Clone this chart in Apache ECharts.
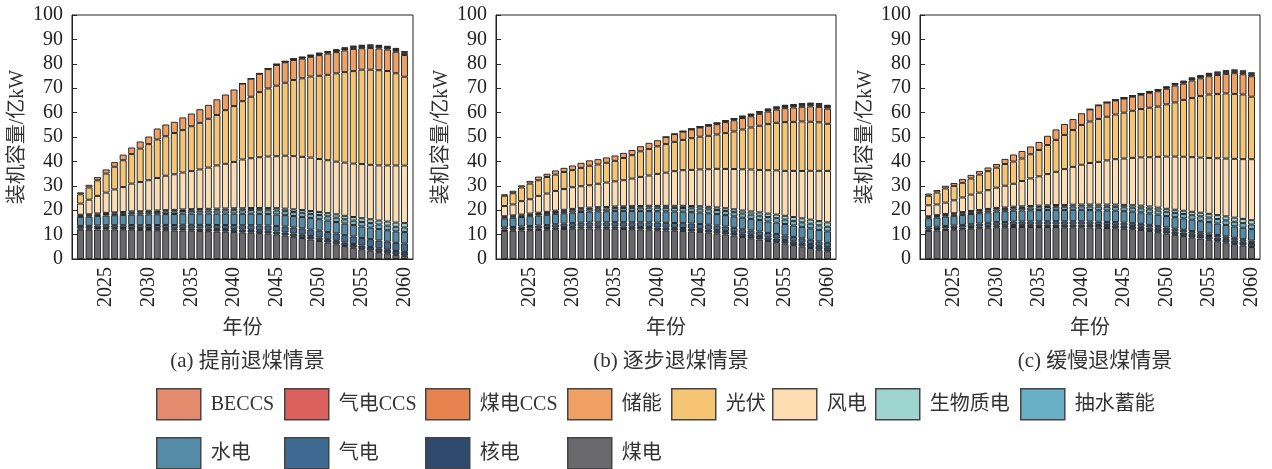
<!DOCTYPE html>
<html>
<head>
<meta charset="utf-8">
<script src="https://cdn.jsdelivr.net/npm/echarts@6/dist/echarts.min.js"></script>
<style>
  html, body { margin: 0; padding: 0; background: #fff; }
  #chart { width: 1272px; height: 469px; }
</style>
</head>
<body>
<div id="chart"></div>
<script>
// Installed capacity by technology, three coal-retirement scenarios (unit: 亿kW)
const years = [2022,2023,2024,2025,2026,2027,2028,2029,2030,2031,2032,2033,2034,2035,2036,2037,2038,2039,2040,
               2041,2042,2043,2044,2045,2046,2047,2048,2049,2050,2051,2052,2053,2054,2055,2056,2057,2058,2059,2060];
const tickYears = [2025, 2030, 2035, 2040, 2045, 2050, 2055, 2060];
const scenarioTitles = ['(a) 提前退煤情景', '(b) 逐步退煤情景', '(c) 缓慢退煤情景'];

// technologies that follow the same path in every scenario
const nuclear = [0.56,0.58,0.61,0.64,0.67,0.70,0.74,0.77,0.80,0.83,0.86,0.89,0.92,0.95,0.98,1.01,1.04,1.07,1.10,
                 1.13,1.16,1.19,1.22,1.25,1.28,1.31,1.34,1.37,1.40,1.43,1.46,1.48,1.51,1.53,1.55,1.57,1.59,1.61,1.63];
const hydro = [3.7,3.8,3.9,4.0,4.1,4.2,4.25,4.3,4.35,4.4,4.45,4.5,4.55,4.6,4.62,4.64,4.66,4.68,4.7,
               4.7,4.7,4.7,4.7,4.7,4.7,4.7,4.7,4.7,4.7,4.7,4.7,4.7,4.7,4.7,4.7,4.7,4.7,4.7,4.7];
const pumped = [0.45,0.5,0.55,0.6,0.66,0.72,0.78,0.84,0.9,0.95,1.0,1.05,1.1,1.15,1.2,1.25,1.3,1.35,1.4,
                1.44,1.48,1.52,1.56,1.6,1.63,1.66,1.69,1.72,1.75,1.77,1.79,1.81,1.83,1.85,1.86,1.87,1.88,1.89,1.9];
const biomass = [0.41,0.43,0.45,0.47,0.49,0.51,0.53,0.55,0.58,0.6,0.62,0.64,0.66,0.68,0.7,0.72,0.74,0.76,0.78,
                 0.82,0.86,0.9,0.94,0.98,1.03,1.08,1.13,1.18,1.23,1.29,1.35,1.41,1.47,1.53,1.58,1.63,1.68,1.73,1.78];
const coalCCS = [0,0,0,0,0,0,0,0,0,0,0,0,0,0,0,0,0,0,0,
                 0.05,0.08,0.12,0.16,0.2,0.25,0.3,0.35,0.4,0.45,0.5,0.55,0.6,0.62,0.65,0.68,0.7,0.7,0.72,0.72];
const gasCCS = [0,0,0,0,0,0,0,0,0,0,0,0,0,0,0,0,0,0,0,0,0,0,0,
                0.03,0.05,0.08,0.1,0.12,0.15,0.18,0.2,0.22,0.24,0.26,0.28,0.3,0.3,0.32,0.32];
const beccs = [0,0,0,0,0,0,0,0,0,0,0,0,0,0,0,0,0,0,0,0,0,
               0.03,0.06,0.1,0.14,0.18,0.22,0.26,0.3,0.34,0.38,0.42,0.45,0.48,0.5,0.52,0.54,0.55,0.56];

// (a) early coal retirement
const coalA = [12.0,12.0,12.1,12.1,12.1,12.0,12.0,11.9,11.9,11.8,11.8,11.7,11.7,11.6,11.5,11.4,11.3,11.2,11.1,
               10.9,10.8,10.6,10.4,10.0,9.6,9.1,8.6,8.0,7.4,6.7,6.0,5.3,4.6,4.0,3.4,2.8,2.2,1.7,1.3];
const gasA = [1.0,1.0,1.05,1.1,1.1,1.15,1.2,1.2,1.25,1.3,1.3,1.35,1.4,1.45,1.5,1.55,1.6,1.65,1.7,
              1.8,1.9,2.0,2.1,2.3,2.4,2.5,2.6,2.7,2.8,2.9,3.0,3.0,3.1,3.1,3.2,3.2,3.3,3.3,3.4];
const windA = [4.6,6.0,7.2,8.3,9.4,10.2,11.4,12.0,12.5,13.3,14.1,14.6,15.1,15.6,16.2,16.9,17.7,18.3,19.0,
               20.0,20.4,20.8,21.1,21.3,21.7,21.8,21.8,21.9,21.7,21.7,21.6,21.8,21.9,22.2,22.3,22.6,23.0,23.4,23.6];
const solarA = [3.8,5.0,6.4,7.8,9.3,11.0,12.1,13.7,14.8,15.8,16.2,16.9,17.4,18.4,19.1,20.0,20.7,22.0,22.9,
                23.9,25.2,26.7,27.9,28.9,29.9,31.2,32.2,33.2,34.1,35.0,36.2,37.1,37.9,38.7,39.0,39.0,38.7,37.8,36.4];
const storageA = [0.8,1.1,1.3,1.7,1.9,2.3,2.7,2.9,3.1,4.5,4.8,4.6,5.2,5.2,5.6,5.7,6.4,6.4,6.8,
                  7.2,7.4,7.5,7.9,8.5,8.4,8.2,8.1,8.1,8.5,8.7,8.7,8.9,9.1,8.8,8.9,8.9,8.8,8.8,8.9];

// (b) gradual coal retirement
const coalB = [11.5,11.6,11.7,11.8,11.9,12.0,12.2,12.3,12.4,12.5,12.5,12.5,12.4,12.4,12.3,12.2,12.1,12.0,11.8,
               11.7,11.6,11.5,11.3,11.1,10.8,10.5,10.1,9.6,9.0,8.5,8.0,7.4,6.9,6.3,5.7,5.1,4.5,3.8,3.2];
const gasB = [0.9,0.95,1.0,1.1,1.15,1.2,1.3,1.4,1.5,1.55,1.6,1.65,1.7,1.75,1.8,1.85,1.9,1.95,2.0,
              2.0,2.0,2.0,2.0,2.0,1.95,1.9,1.85,1.8,1.8,1.8,1.8,1.8,1.8,1.8,1.8,1.8,1.8,1.8,1.8];
const windB = [4.2,4.5,5.5,5.9,6.9,7.5,8.1,8.5,8.9,9.0,9.2,9.6,10.0,10.3,10.7,11.3,11.9,12.4,13.1,
               13.6,14.2,14.6,14.8,15.1,15.4,15.8,16.1,16.5,16.9,17.2,17.4,17.8,18.1,18.4,18.9,19.4,20.0,20.6,21.1];
const solarB = [4.2,4.6,5.6,6.4,6.4,6.8,6.7,7.0,7.0,7.5,8.0,7.9,8.1,8.4,9.1,9.6,10.5,10.9,11.3,
                11.7,12.0,12.4,13.0,13.4,13.7,14.1,14.7,15.4,16.3,17.2,18.1,18.9,19.5,20.0,20.1,20.3,20.1,19.9,19.3];
const storageB = [0.6,1.0,0.9,1.1,1.5,1.3,1.7,1.7,1.9,2.1,2.2,2.2,2.2,2.2,2.1,2.1,2.1,2.5,2.5,
                  2.9,3.2,3.4,3.6,3.8,4.1,4.2,4.5,4.6,4.7,4.6,4.9,5.1,5.4,5.7,5.9,6.0,6.3,6.3,6.2];

// (c) slow coal retirement
const coalC = [11.5,11.7,11.9,12.0,12.2,12.4,12.6,12.8,13.0,13.0,13.1,13.1,13.1,13.1,13.1,13.1,13.0,13.0,13.0,
               12.9,12.8,12.7,12.6,12.4,12.2,11.9,11.5,11.0,10.4,9.9,9.4,8.9,8.4,7.9,7.3,6.7,6.1,5.5,4.9];
const gasC = [0.9,0.95,1.0,1.05,1.1,1.15,1.2,1.25,1.3,1.35,1.4,1.4,1.4,1.4,1.4,1.4,1.4,1.4,1.35,
              1.35,1.3,1.3,1.3,1.25,1.2,1.2,1.15,1.1,1.1,1.1,1.1,1.05,1.05,1.0,1.0,1.0,1.0,1.0,1.0];
const windC = [4.5,4.4,4.7,5.3,6.0,6.7,7.1,7.7,8.3,8.9,9.4,10.4,11.3,12.0,12.8,13.6,14.7,15.5,16.3,
               17.0,17.5,18.1,18.6,19.0,19.4,19.8,20.2,20.8,21.4,21.8,22.1,22.4,22.6,22.9,23.3,23.7,24.1,24.5,25.0];
const solarC = [3.9,4.9,5.8,5.9,6.0,6.6,7.4,7.8,8.2,8.9,9.1,9.2,9.9,10.8,11.9,13.1,14.0,15.1,16.3,
                17.0,17.6,17.9,18.3,18.8,19.3,19.8,20.3,20.6,21.4,22.2,23.3,24.2,25.2,26.0,26.3,26.7,26.6,26.5,25.6];
const storageC = [0.9,1.0,1.1,1.2,1.6,1.5,1.5,1.5,1.5,2.1,2.9,3.1,3.2,3.3,3.8,4.3,4.5,4.5,4.8,
                  5.0,5.6,5.8,5.8,5.8,5.8,5.9,6.1,6.3,6.4,6.9,6.7,7.2,7.3,7.5,7.8,8.0,8.5,8.3,8.4];

// stacking order, bottom to top
const techNames = ['煤电','核电','气电','水电','抽水蓄能','生物质电','风电','光伏','储能','煤电CCS','气电CCS','BECCS'];
const techColors = {
  'BECCS': '#E58B6D', '气电CCS': '#DC605E', '煤电CCS': '#E8834F', '储能': '#EFA062',
  '光伏': '#F6C573', '风电': '#FCDDB2', '生物质电': '#9ED5CF', '抽水蓄能': '#69B0C7',
  '水电': '#558BA7', '气电': '#3E6A91', '核电': '#2D4A6C', '煤电': '#69696D'
};
const scenarioData = [
  { '煤电': coalA, '核电': nuclear, '气电': gasA, '水电': hydro, '抽水蓄能': pumped, '生物质电': biomass,
    '风电': windA, '光伏': solarA, '储能': storageA, '煤电CCS': coalCCS, '气电CCS': gasCCS, 'BECCS': beccs },
  { '煤电': coalB, '核电': nuclear, '气电': gasB, '水电': hydro, '抽水蓄能': pumped, '生物质电': biomass,
    '风电': windB, '光伏': solarB, '储能': storageB, '煤电CCS': coalCCS, '气电CCS': gasCCS, 'BECCS': beccs },
  { '煤电': coalC, '核电': nuclear, '气电': gasC, '水电': hydro, '抽水蓄能': pumped, '生物质电': biomass,
    '风电': windC, '光伏': solarC, '储能': storageC, '煤电CCS': coalCCS, '气电CCS': gasCCS, 'BECCS': beccs }
];

// legend entries in reading order: first row, then second row
const legendRow1 = ['BECCS','气电CCS','煤电CCS','储能','光伏','风电','生物质电','抽水蓄能'];
const legendRow2 = ['水电','气电','核电','煤电'];

const FONT = "'Liberation Serif', 'Times New Roman', 'Noto Sans CJK SC', serif";
const INK = '#222';

// category axis runs one year past each end so the first/last bars sit inside the frame
const categories = [String(years[0] - 1)].concat(years.map(String), [String(years[years.length - 1] + 1)]);
const isTick = (idx, val) => tickYears.indexOf(+val) !== -1;
const pad = arr => ['-'].concat(arr.map(v => (v === 0 ? '-' : v)), ['-']);

const gridLayout = [
  { left: 72, width: 341 },
  { left: 496, width: 340 },
  { left: 920, width: 340 }
];

const grids = [], xAxes = [], yAxes = [], series = [], titles = [];
gridLayout.forEach((g, i) => {
  grids.push({ left: g.left, width: g.width, top: 15, height: 244, show: true,
               borderColor: INK, borderWidth: 1, backgroundColor: 'transparent' });
  xAxes.push({
    type: 'category', gridIndex: i, data: categories, boundaryGap: false,
    axisLine: { lineStyle: { color: INK, width: 1 } },
    axisTick: { inside: true, length: 3, interval: isTick, lineStyle: { color: INK } },
    axisLabel: { rotate: 90, interval: isTick, margin: 8, fontSize: 20, color: INK, fontFamily: FONT },
    splitLine: { show: false },
    name: '年份', nameLocation: 'middle', nameGap: 60,
    nameTextStyle: { fontSize: 20, color: '#333', fontFamily: FONT }
  });
  yAxes.push({
    type: 'value', gridIndex: i, min: 0, max: 100, interval: 10,
    axisLine: { show: true, lineStyle: { color: INK, width: 1 } },
    axisTick: { show: true, inside: true, length: 5, lineStyle: { color: INK } },
    axisLabel: { fontSize: 20, color: INK, margin: 9, fontFamily: FONT },
    splitLine: { show: false },
    name: '装机容量/亿kW', nameLocation: 'middle', nameGap: 44,
    nameTextStyle: { fontSize: 20, color: '#333', fontFamily: FONT }
  });
  titles.push({
    text: scenarioTitles[i], left: g.left + g.width / 2, top: 346, textAlign: 'center',
    textStyle: { fontSize: 21, fontWeight: 'normal', color: '#333', fontFamily: FONT }
  });
  techNames.forEach(name => {
    series.push({
      type: 'bar', name: name, stack: 'total' + i, xAxisIndex: i, yAxisIndex: i,
      barWidth: 7, data: pad(scenarioData[i][name]),
      itemStyle: { color: techColors[name], borderColor: '#2a2a2a', borderWidth: 1 },
      emphasis: { disabled: true }
    });
  });
});

// one legend block per entry, laid out on a two-row grid under the panels
const row1Lefts = [156, 284, 425, 567, 671, 772, 875, 1020];
const row2Lefts = [156, 284, 425, 567];
const legendBase = {
  orient: 'horizontal', icon: 'rect', itemWidth: 44, itemHeight: 31, selectedMode: false,
  padding: 0, itemStyle: { borderColor: '#444', borderWidth: 1.5 },
  textStyle: { fontSize: 20, color: '#333', fontFamily: FONT, padding: [0, 0, 0, 5] }
};
const legends = [];
legendRow1.forEach((name, k) => legends.push(Object.assign({}, legendBase, { left: row1Lefts[k], top: 388, data: [name] })));
legendRow2.forEach((name, k) => legends.push(Object.assign({}, legendBase, { left: row2Lefts[k], top: 437, data: [name] })));

const chart = echarts.init(document.getElementById('chart'), null, { renderer: 'canvas' });
chart.setOption({
  animation: false,
  backgroundColor: '#fff',
  title: titles,
  legend: legends,
  grid: grids,
  xAxis: xAxes,
  yAxis: yAxes,
  series: series
});
</script>
</body>
</html>
